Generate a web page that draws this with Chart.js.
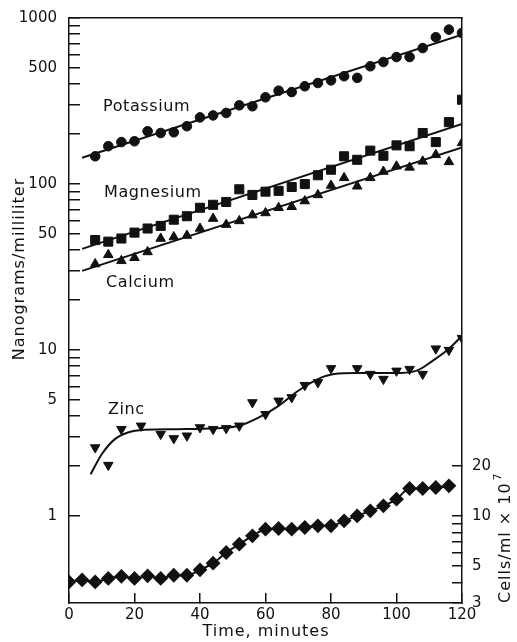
<!DOCTYPE html>
<html>
<head>
<meta charset="utf-8">
<script src="https://cdn.jsdelivr.net/npm/chart.js@4"></script>
<style>
  html, body { margin: 0; padding: 0; background: #fff; }
  #chart { display: block; }
</style>
</head>
<body>
<canvas id="chart" width="517" height="642"></canvas>
<script>
// sampling times (minutes)
const ionTime = [8, 12, 16, 20, 24, 28, 32, 36, 40, 44, 48, 52, 56, 60, 64, 68, 72, 76, 80, 84, 88, 92, 96, 100, 104, 108, 112, 116, 120];
const potassium = [147, 169, 179, 181, 208, 203, 205, 223, 252, 259, 268, 298, 294, 333, 365, 358, 388, 406, 421, 446, 436, 512, 543, 582, 582, 659, 766, 851, 812];
const magnesium = [46, 45, 47, 51, 54, 56, 61, 64, 72, 75, 78, 93, 86, 90, 91, 96, 100, 113, 122, 147, 140, 159, 148, 171, 169, 203, 179, 236, 322];
const calcium = [33, 37.5, 34.5, 36, 39, 47, 48, 49, 54, 62, 57, 60, 65, 67, 72, 73, 79, 86, 98, 109, 97, 109, 119, 128, 126, 137, 150, 136, 177];

const zincTime = [8, 12, 16, 22, 28, 32, 36, 40, 44, 48, 52, 56, 60, 64, 68, 72, 76, 80, 88, 92, 96, 100, 104, 108, 112, 116, 120];
const zinc = [2.59, 2.03, 3.34, 3.5, 3.12, 2.94, 3.05, 3.42, 3.34, 3.38, 3.5, 4.84, 4.11, 4.95, 5.19, 6.15, 6.39, 7.76, 7.76, 7.17, 6.69, 7.5, 7.68, 7.17, 10.2, 10.0, 11.8];
// smooth curve drawn through the zinc data
const zincCurveTime = [6.6, 10, 14, 18, 23, 33, 45, 52, 58, 64, 70, 76, 81, 88, 99, 106, 111, 116, 120];
const zincCurve = [1.79, 2.36, 2.91, 3.19, 3.31, 3.34, 3.38, 3.5, 3.93, 4.62, 5.69, 6.69, 7.17, 7.27, 7.27, 7.5, 8.62, 10.2, 12.2];

// cell count, right axis (cells/ml x 10^7)
const cellTime = [0, 4, 8, 12, 16, 20, 24, 28, 32, 36, 40, 44, 48, 52, 56, 60, 64, 68, 72, 76, 80, 84, 88, 92, 96, 100, 104, 108, 112, 116];
const cells = [4.02, 4.13, 4.02, 4.22, 4.34, 4.22, 4.37, 4.22, 4.41, 4.41, 4.75, 5.21, 6.04, 6.78, 7.61, 8.35, 8.43, 8.35, 8.55, 8.75, 8.75, 9.37, 10.04, 10.77, 11.54, 12.66, 14.68, 14.68, 14.89, 15.23];

// straight fitted lines (start, end)
const fitTime = [4, 120];
const potassiumFit = [144, 794];
const magnesiumFit = [40.7, 230];
const calciumFit = [30, 166];

// ticks
const xTicks = [0, 20, 40, 60, 80, 100, 120];
const leftTicks = [1, 2, 3, 4, 5, 6, 7, 8, 9, 10, 20, 30, 40, 50, 60, 70, 80, 90, 100, 200, 300, 400, 500, 600, 700, 800, 900, 1000];
const leftLabels = [1, 5, 10, 50, 100, 500, 1000];
const rightTicks = [3, 4, 5, 6, 7, 8, 9, 10, 20];
const rightLabels = [3, 5, 10, 20];

const INK = '#111';
const FONT = 'DejaVu Sans';

const pts = (xs, ys) => xs.map((x, i) => ({ x: x, y: ys[i] }));

function markerSet(data, style, radius, rotation) {
    return {
        data: data,
        yAxisID: 'y',
        showLine: false,
        pointStyle: style,
        pointRadius: radius,
        pointRotation: rotation || 0,
        pointBackgroundColor: INK,
        pointBorderColor: INK,
        pointBorderWidth: 1
    };
}

function lineSet(data, axis, smooth) {
    return {
        data: data,
        yAxisID: axis || 'y',
        showLine: true,
        borderColor: INK,
        borderWidth: 2,
        pointRadius: 0,
        cubicInterpolationMode: smooth ? 'monotone' : 'default',
        tension: 0
    };
}

// negative tick length turns the tick marks into the plot
const axisGrid = len => ({
    display: true,
    drawOnChartArea: false,
    drawTicks: true,
    tickLength: len,
    color: INK,
    lineWidth: 1.5
});
const axisBorder = { display: true, color: INK, width: 1.5 };

// fixed box sizes so the plot frame lands where the original is
const fixWidth = w => s => {
    s.width = w;
    s.paddingTop = 0;
    s.paddingBottom = 0;
};

// titles and series names
const annotations = {
    id: 'annotations',
    afterDraw(chart) {
        const { ctx } = chart;
        ctx.save();
        ctx.fillStyle = INK;
        ctx.font = '16px "' + FONT + '"';
        ctx.letterSpacing = '0.6px';
        ctx.textBaseline = 'middle';
        ctx.textAlign = 'left';
        ctx.fillText('Potassium', 103, 107);
        ctx.fillText('Magnesium', 104, 193);
        ctx.fillText('Calcium', 106, 283);
        ctx.fillText('Zinc', 108, 410);

        ctx.letterSpacing = '1px';
        ctx.textAlign = 'center';
        ctx.fillText('Time, minutes', 266, 632);

        ctx.save();
        ctx.translate(20, 269);
        ctx.rotate(-Math.PI / 2);
        ctx.fillText('Nanograms/milliliter', 0, 0);
        ctx.restore();

        ctx.save();
        ctx.translate(506, 603);
        ctx.rotate(-Math.PI / 2);
        ctx.textAlign = 'left';
        ctx.fillText('Cells/ml \u00d7 10', 0, 0);
        const w = ctx.measureText('Cells/ml \u00d7 10').width;
        ctx.font = '11px "' + FONT + '"';
        ctx.fillText('7', w + 2, -8);
        ctx.restore();

        ctx.restore();
    }
};

const tickFont = { family: FONT, size: 15 };

new Chart(document.getElementById('chart'), {
    type: 'scatter',
    data: {
        datasets: [
            markerSet(pts(ionTime, potassium), 'circle', 4.8),
            lineSet(pts(fitTime, potassiumFit)),
            markerSet(pts(ionTime, magnesium), 'rect', 6.4),
            lineSet(pts(fitTime, magnesiumFit)),
            markerSet(pts(ionTime, calcium), 'triangle', 5.5),
            lineSet(pts(fitTime, calciumFit)),
            markerSet(pts(zincTime, zinc), 'triangle', 5.5, 180),
            lineSet(pts(zincCurveTime, zincCurve), 'y', true),
            Object.assign(lineSet(pts(cellTime, cells), 'y2', true), {
                pointStyle: 'rectRot',
                pointRadius: 6,
                pointBackgroundColor: INK,
                pointBorderColor: INK
            })
        ]
    },
    options: {
        responsive: false,
        animation: false,
        events: [],
        layout: { padding: 0 },
        plugins: {
            legend: { display: false },
            tooltip: { enabled: false }
        },
        scales: {
            x: {
                type: 'linear',
                position: 'bottom',
                min: 0,
                max: 120,
                afterBuildTicks: s => { s.ticks = xTicks.map(v => ({ value: v })); },
                afterFit: s => { s.height = 39; },
                ticks: { color: INK, font: tickFont, padding: 13, maxRotation: 0 },
                grid: axisGrid(-10),
                border: axisBorder
            },
            // top frame line only
            x2: {
                type: 'linear',
                position: 'top',
                min: 0,
                max: 120,
                afterFit: s => { s.height = 18; },
                ticks: { display: false },
                grid: { display: true, drawOnChartArea: false, drawTicks: false, color: INK, lineWidth: 1.5 },
                border: axisBorder
            },
            y: {
                type: 'logarithmic',
                position: 'left',
                min: 0.3,
                max: 1000,
                afterBuildTicks: s => { s.ticks = leftTicks.map(v => ({ value: v })); },
                afterFit: fixWidth(69),
                ticks: {
                    color: INK,
                    font: tickFont,
                    padding: 23,
                    autoSkip: false,
                    callback: v => leftLabels.includes(v) ? String(v) : ''
                },
                grid: axisGrid(-11),
                border: axisBorder
            },
            y2: {
                type: 'logarithmic',
                position: 'right',
                min: 3,
                max: 10000,
                afterBuildTicks: s => { s.ticks = rightTicks.map(v => ({ value: v })); },
                afterFit: fixWidth(55),
                ticks: {
                    color: INK,
                    font: tickFont,
                    padding: 20,
                    autoSkip: false,
                    callback: v => rightLabels.includes(v) ? String(v) : ''
                },
                grid: axisGrid(-10),
                border: axisBorder
            }
        }
    },
    plugins: [annotations]
});
</script>
</body>
</html>
